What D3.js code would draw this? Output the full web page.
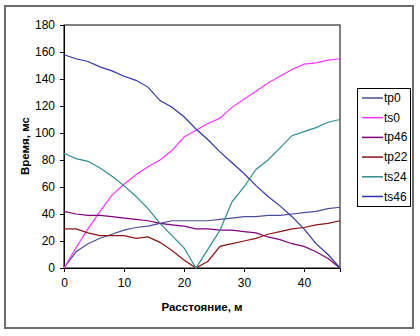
<!DOCTYPE html>
<html><head><meta charset="utf-8">
<script src="https://cdn.jsdelivr.net/npm/d3@7"></script>
<style>body{margin:0;background:#fff}svg{display:block}text{font-family:"Liberation Sans",Arial,sans-serif}</style>
</head><body>
<script>
const distance = [0,2,4,6,8,10,12,14,16,18,20,22,24,26,28,30,32,34,36,38,40,42,44,46];
const tp0  = [0,12,18,22,25,28,30,31,33,35,35,35,35,36,37,38,38,39,39,40,41,42,44,45];
const ts0  = [0,15,29,42,54,62,69,75,80,87,97,102,107,111,119,125,131,137,142,147,151,152,154,155];
const tp46 = [42,40,39,39,38,37,36,35,33,32,31,29,29,28,28,27,26,23,21,18,16,12,7,0];
const tp22 = [29,29,26,24,24,24,22,23,19,13,6,0,5,16,18,20,22,25,27,29,30,32,33,35];
const ts24 = [85,81,79,74,68,61,53,44,33,24,15,0,14,28,49,60,73,80,89,98,101,104,108,110];
const ts46 = [158,155,153,149,146,142,139,134,124,119,112,103,95,86,78,70,61,53,46,38,29,18,10,0];
const seriesNames = ["tp0","ts0","tp46","tp22","ts24","ts46"];
const seriesValues = [tp0,ts0,tp46,tp22,ts24,ts46];
const colors = ["#4d4d9e","#ff33ff","#800080","#8b1414","#2a8f8f","#3333b0"];
const yTicks = [0,20,40,60,80,100,120,140,160,180];
const xTicks = [0,10,20,30,40];

const W=420,H=336;
const svg=d3.select("body").append("svg").attr("width",W).attr("height",H);
svg.append("rect").attr("x",5).attr("y",6).attr("width",408).attr("height",322)
  .attr("fill","#fff").attr("stroke","#6e6e6e").attr("stroke-width",2);

const x=d3.scaleLinear().domain([0,46]).range([64,340]);
const y=d3.scaleLinear().domain([0,180]).range([268,25]);

svg.append("rect").attr("x",64).attr("y",25).attr("width",276).attr("height",243)
  .attr("fill","#fff").attr("stroke","#000").attr("stroke-width",1);

const gy=svg.append("g").attr("transform","translate(64,0)")
  .call(d3.axisLeft(y).tickValues(yTicks).tickSize(4).tickPadding(5));
const gx=svg.append("g").attr("transform","translate(0,268)")
  .call(d3.axisBottom(x).tickValues(xTicks).tickSize(4).tickPadding(6));
[gy,gx].forEach(g=>{g.selectAll("text").attr("font-size",12).attr("fill","#000").style("font-family","'Liberation Sans',Arial,sans-serif");
  g.selectAll("line,path").attr("stroke","#000");});

const line=d3.line().x((d,i)=>x(distance[i])).y(d=>y(d));
seriesValues.forEach((vals,k)=>{
  svg.append("path").datum(vals).attr("d",line).attr("fill","none")
    .attr("stroke",colors[k]).attr("stroke-width",1.2);
});

svg.append("text").attr("x",202).attr("y",311).attr("text-anchor","middle")
  .attr("font-size",11.5).attr("font-weight","bold").text("Расстояние, м");
svg.append("text").attr("transform","translate(29,146) rotate(-90)").attr("text-anchor","middle")
  .attr("font-size",11.5).attr("font-weight","bold").text("Время, мс");

const lg=svg.append("g");
lg.append("rect").attr("x",357.5).attr("y",88.5).attr("width",53).attr("height",118)
  .attr("fill","#fff").attr("stroke","#000");
seriesNames.forEach((n,i)=>{
  const yy=98+i*19.7;
  lg.append("line").attr("x1",362).attr("x2",383).attr("y1",yy).attr("y2",yy)
    .attr("stroke",colors[i]).attr("stroke-width",1.5);
  lg.append("text").attr("x",384).attr("y",yy+4).attr("font-size",12).text(n);
});
</script>
</body></html>
